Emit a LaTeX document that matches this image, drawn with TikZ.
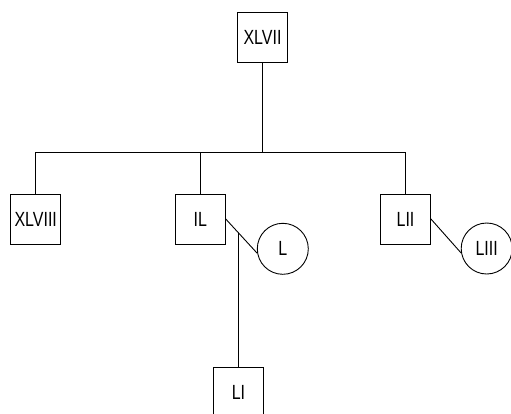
\documentclass[tikz,border=0pt]{standalone}
\usepackage{fontspec}
\setmainfont{Liberation Sans}[FakeStretch=0.78]
\usetikzlibrary{calc}
\begin{document}
\begin{tikzpicture}[x=1pt, y=-1pt, line width=0.9pt,
    male/.style={draw, minimum size=50pt, inner sep=0pt},
    female/.style={draw, circle, minimum size=51pt, inner sep=0pt},
    font=\fontsize{20.5}{20.5}\selectfont]
    \useasboundingbox (0,0) rectangle (511,413);
    \node (xlvii) [male] at (262.5,37.5) {XLVII};
    \node (xlviii) [male] at (35.7,219) {XLVIII};
    \node (il) [male] at (200.3,219) {IL};
    \node (lii) [male] at (405.5,219) {LII};
    \node (l) [female] at (282.8,248.8) {L};
    \node (liii) [female] at (486.7,248.5) {LIII};
    \node (li) [male] at (238.5,392.5) {LI};
    \coordinate (bar) at (262.3,152.7);
    \draw (xlviii.north) -- (xlviii.north |- bar) -- (lii.north |- bar) -- (lii.north);
    \draw (xlvii) -- (xlvii |- bar);
    \draw (il.north) -- (il.north |- bar);
    \draw (il.east) -- (l.190);
    \draw (lii.east) -- (liii.190);
    \coordinate (mid) at ($(il.east)!0.41!(l.190)$);
    \draw (mid) -- (mid |- li.north);
  \end{tikzpicture}
\end{document}
